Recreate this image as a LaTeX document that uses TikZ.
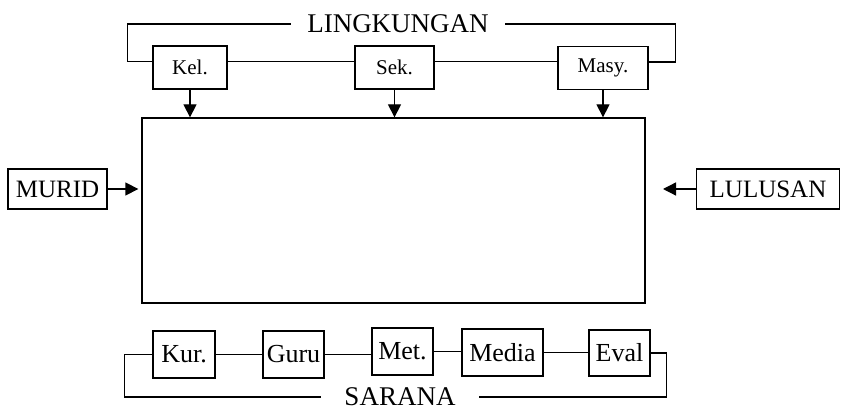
\documentclass[tikz,border=0pt]{standalone}
\usepackage{fontspec}
\setmainfont{Liberation Serif}
\usetikzlibrary{arrows.meta,positioning}
\tikzstyle{block} = [draw, rectangle, inner sep=0pt]
\tikzstyle{topbox} = [block, minimum height=43pt, font=\fontsize{21}{24}\selectfont]
\tikzstyle{lowbox} = [block, minimum height=47pt, font=\fontsize{26}{30}\selectfont]
\tikzstyle{sidebox} = [block, minimum height=40pt, font=\fontsize{25}{28}\selectfont]
\tikzstyle{heading} = [inner sep=0pt, font=\fontsize{27}{30}\selectfont]

\begin{document}
\begin{tikzpicture}[x=1pt,y=-1pt,line width=1.3pt,>={Triangle[width=13pt,length=13pt]}]
    \useasboundingbox (0,0) rectangle (842,411);
    % lingkungan
    \node [heading, minimum width=212pt] (lingk) at (398,24) {LINGKUNGAN};
    \node [topbox, minimum width=74pt] (kel) at (190,67.5) {Kel.};
    \node [topbox, minimum width=79pt] (sek) at (394.5,67.5) {Sek.};
    \node [topbox, minimum width=90pt] (masy) at (603,68) {Masy.};
    % proses
    \node [block, minimum width=503pt, minimum height=185pt] (proses) at (393.5,210.5) {};
    \node [sidebox, minimum width=99pt] (murid) at (57.5,189) {MURID};
    \node [sidebox, minimum width=143pt] (lulusan) at (768,189) {LULUSAN};
    \coordinate (keluar) at (663,189);
    % sarana
    \node [lowbox, minimum width=62pt] (kur) at (184,354.5) {Kur.};
    \node [lowbox, minimum width=61pt] (guru) at (293.5,354.5) {Guru};
    \node [lowbox, minimum width=61pt] (met) at (402.5,351.5) {Met.};
    \node [lowbox, minimum width=81pt] (media) at (502.5,352.5) {Media};
    \node [lowbox, minimum width=61pt, minimum height=46pt] (eval) at (619.5,353) {Eval};
    \node [heading, minimum width=156pt] (sarana) at (400,397) {SARANA};

    \draw ([yshift=6pt]kel.west) -- ++(-25,0) |- (lingk.west);
    \draw ([yshift=6pt]masy.east) -- ++(27,0) |- (lingk.east);
    \draw ([yshift=6pt]kel.east) -- ([yshift=6pt]kel.east -| sek.west);
    \draw ([yshift=6pt]sek.east) -- ([yshift=6pt]sek.east -| masy.west);
    \draw [->] (kel.south) -- (kel.south |- proses.north);
    \draw [->] (sek.south) -- (sek.south |- proses.north);
    \draw [->] (masy.south) -- (masy.south |- proses.north);
    \draw [->, shorten >=3pt] (murid.east) -- (murid.east -| proses.west);
    \draw [->] (lulusan.west) -- (keluar);
    \draw (kur.east) -- (kur.east -| guru.west);
    \draw (guru.east) -- (guru.east -| met.west);
    \draw (met.east) -- (met.east -| media.west);
    \draw (media.east) -- (media.east -| eval.west);
    \draw (kur.west) -- ++(-28,0) |- (sarana.west);
    \draw (eval.east) -- ++(16,0) |- (sarana.east);
\end{tikzpicture}
\end{document}
